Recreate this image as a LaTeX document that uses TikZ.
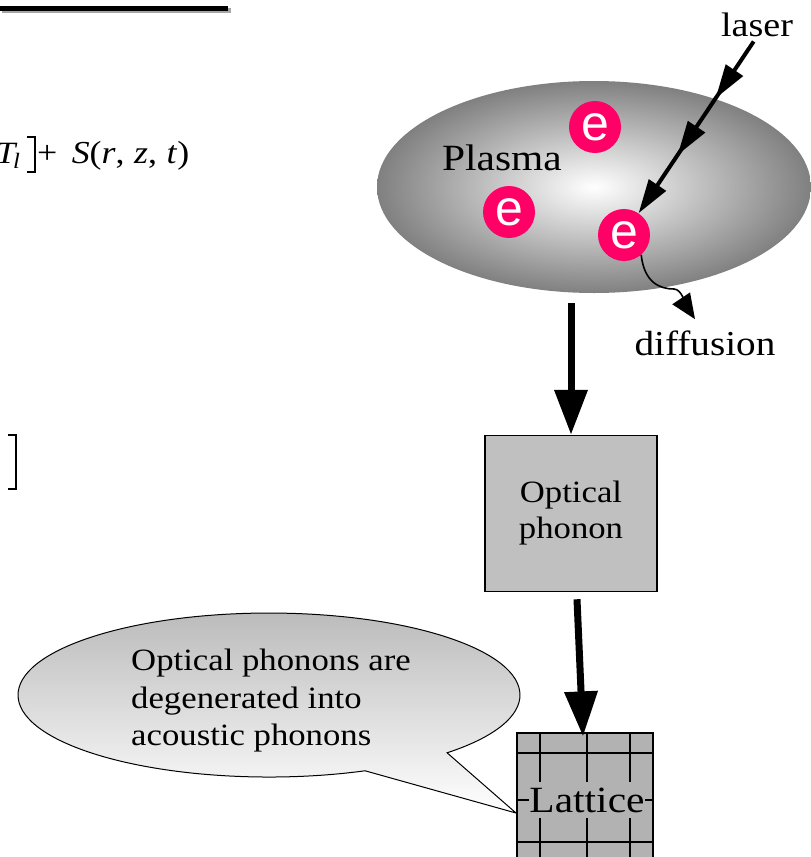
\documentclass[tikz,border=0pt]{standalone}
\usepackage{fontspec}
\setmainfont[FakeStretch=1.12]{Liberation Serif}
\newfontfamily\esans{Liberation Sans}
\usetikzlibrary{arrows.meta,shapes.geometric,decorations.markings,calc}
\definecolor{epink}{RGB}{255,0,102}
\definecolor{optfill}{RGB}{192,192,192}
\definecolor{latfill}{RGB}{178,178,178}
\definecolor{plasmaout}{RGB}{128,128,128}
\definecolor{bubtop}{RGB}{185,185,185}
\newcommand\setfs[1]{\fontsize{#1}{#1}\selectfont}
\begin{document}
\begin{tikzpicture}[x=1pt,y=-1pt,
  electron/.style={circle,fill=epink,minimum size=52pt,inner sep=0pt,text=white,font=\esans\setfs{50}},
  lbl/.style={inner sep=0pt,anchor=base},
  bigarrow/.style={line width=7pt,-{Triangle[length=45pt,width=32pt]}},
  laserline/.style={line width=4pt,-{Triangle[length=34pt,width=20pt]},
    postaction={decorate,decoration={markings,
      mark=at position 0.35 with {\arrow{Triangle[length=34pt,width=20pt]}},
      mark=at position 0.67 with {\arrow{Triangle[length=34pt,width=20pt]}}}}},
  diffline/.style={line width=1.6pt,-{Triangle[length=25pt,width=21pt]}},
  gridline/.style={line width=1.3pt}]
\useasboundingbox (0,0) rectangle (811,857);
\fill[white] (0,0) rectangle (811,857);

% title underline (clipped title)
\fill[black!35] (2,8) rectangle (231,13);
\fill[black] (0,6) rectangle (228,11);

% equation fragments
\node[anchor=base west,inner sep=0pt,font=\setfs{31}] (tl) at (-4,163) {\textit{T}};
\node[anchor=base west,inner sep=0pt,font=\setfs{22}] (tsub) at (13,168) {\textit{l}};
\draw[line width=2.4pt] (27,137) -- (35,137) -- (35,172) -- (27,172);
\node[anchor=base west,inner sep=0pt,font=\setfs{32}] (sfun) at (37,163)
  {+\hspace{0.45em}\textit{S}(\textit{r},\hspace{0.3em}\textit{z},\hspace{0.3em}\textit{t})};
\draw[line width=2.4pt] (8,435) -- (16,435) -- (16,489) -- (8,489);

% plasma
\node[ellipse,minimum width=434pt,minimum height=212pt,inner sep=0pt,inner color=white,outer color=plasmaout] (plasma) at (594,187) {};
\node[lbl,font=\setfs{37}] (plasmatxt) at (502,170) {Plasma};
\node[electron] (e1) at (595,127) {e};
\node[electron] (e2) at (509,212) {e};
\node[electron] (e3) at (624,235) {e};

% laser
\node[lbl,font=\setfs{34}] (laser) at (757,36) {laser};
\draw[laserline,shorten <=6pt] (laser.south) -- (e3);

% diffusion
\node[lbl,font=\setfs{35}] (diffusion) at (705,355) {diffusion};
\draw[diffline] (e3.311) .. controls +(3,28) and +(-14,0) .. (674,289)
  .. controls +(8,0) and +(-8,-12) .. ($(diffusion.north)+(-10,-11)$);

% optical phonon
\node[draw,fill=optfill,line width=1.5pt,minimum width=172pt,minimum height=156pt,
  align=center,inner sep=0pt,font=\fontsize{31}{36}\selectfont] (optical) at (571,513.5) {Optical\\phonon};
\draw[bigarrow,shorten <=10pt] (optical.north |- plasma.south) -- (optical.north);

% lattice
\node[draw,fill=latfill,line width=1.2pt,minimum width=136pt,minimum height=150pt,inner sep=0pt] (lattice) at (585,808) {};
\draw[gridline] (540,733) -- (540,883);
\draw[gridline] (587,733) -- (587,883);
\draw[gridline] (630,733) -- (630,883);
\draw[gridline] (517,753) -- (653,753);
\draw[gridline] (517,800) -- (653,800);
\draw[gridline] (517,842) -- (653,842);
\node[fill=latfill,inner xsep=0pt,inner ysep=6pt,anchor=base,font=\setfs{37}] (lattxt) at (587,812) {Lattice};
\draw[bigarrow] ($(optical.south)+(6,7)$) -- ($(lattice.north)+(-2,4)$);

% speech bubble
\path[draw,line width=1pt,top color=bubtop,bottom color=white]
  (447.1,752.8) arc[start angle=44.8,end angle=-292.5,x radius=251,y radius=82]
  -- (516,813) -- cycle;
\node[anchor=north west,inner sep=0pt,align=left,font=\fontsize{31}{37.5}\selectfont] (bubtxt) at (131,649)
  {Optical phonons are\\degenerated into\\acoustic phonons};
\end{tikzpicture}
\end{document}
